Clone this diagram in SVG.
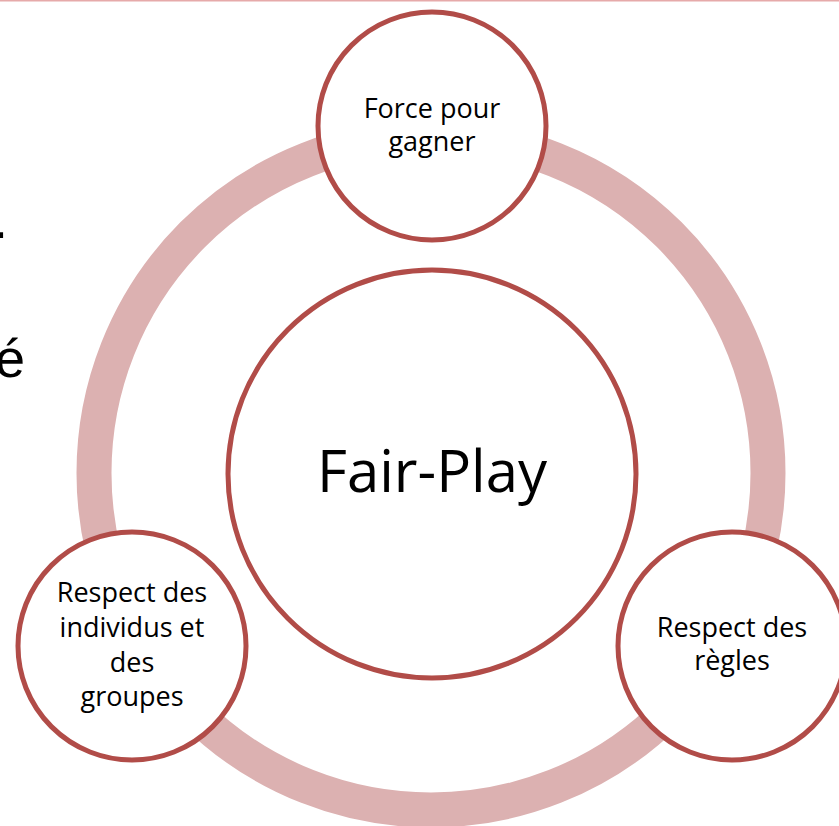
<svg xmlns="http://www.w3.org/2000/svg" width="839" height="826" viewBox="0 0 839 826">
<style>
.node{fill:#ffffff;stroke:#b14c48;stroke-width:5}
.lbl{font-family:"Open Sans","Liberation Sans",sans-serif;font-size:27px;fill:#000000;text-anchor:middle}
.big{font-family:"Open Sans","Liberation Sans",sans-serif;font-size:58px;fill:#000000;text-anchor:middle}
.side{font-family:"Liberation Sans",Arial,sans-serif;font-size:54px;fill:#000000;text-anchor:end}
</style>
<rect x="0" y="0" width="839" height="826" fill="#ffffff"/>
<rect x="0" y="0" width="839" height="1.5" fill="#e6aaaa"/>
<text class="side" x="8" y="238">.</text>
<text class="side" x="25" y="377">é</text>
<g id="connectors">
<circle cx="431" cy="473" r="337" fill="none" stroke="#dcb1b1" stroke-width="35"/>
</g>
<g id="center">
<circle class="node" cx="432" cy="474" r="204"/>
<text class="big" x="432" y="492">Fair-Play</text>
</g>
<g id="top">
<circle class="node" cx="432" cy="126" r="114"/>
<text class="lbl" x="432" y="118">Force pour</text>
<text class="lbl" x="432" y="151">gagner</text>
</g>
<g id="left">
<circle class="node" cx="132" cy="646" r="114"/>
<text class="lbl" x="132" y="602">Respect des</text>
<text class="lbl" x="132" y="637">individus et</text>
<text class="lbl" x="132" y="672">des</text>
<text class="lbl" x="132" y="706">groupes</text>
</g>
<g id="right">
<circle class="node" cx="732" cy="646" r="114"/>
<text class="lbl" x="732" y="637">Respect des</text>
<text class="lbl" x="732" y="670">règles</text>
</g>
</svg>
